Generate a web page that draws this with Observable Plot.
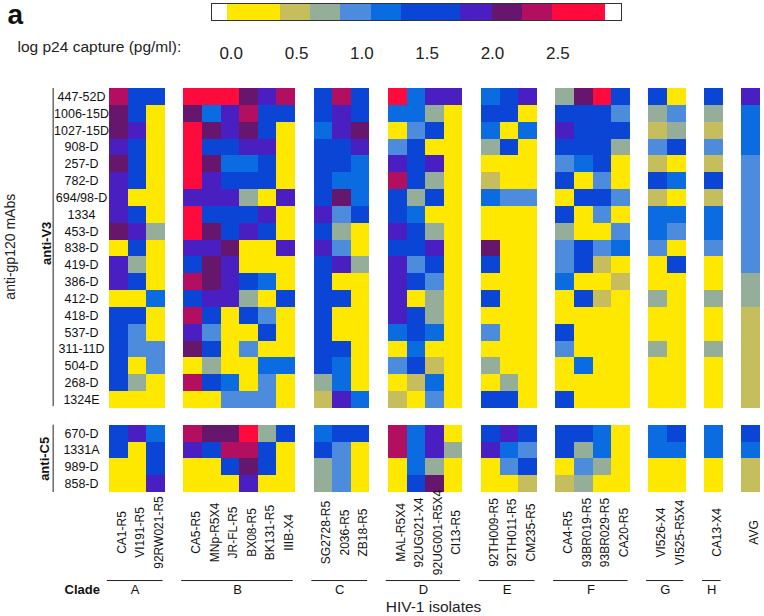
<!DOCTYPE html>
<html><head><meta charset="utf-8">
<script src="https://cdn.jsdelivr.net/npm/d3@7"></script>
<script src="https://cdn.jsdelivr.net/npm/@observablehq/plot@0.6"></script>
<style>html,body{margin:0;padding:0;background:#fff}svg{display:block}</style>
</head><body><div id="c"></div>
<script>
// log p24 capture bins (pg/ml): upper thresholds, colours and a representative value for each level
const thresholds=[0.377,0.607,0.837,1.072,1.302,1.756,1.998,2.23,2.46];
const colors=["#ffe800","#c6bd5c","#94ae9a","#4d8cdc","#0a6ce0","#0a45d6","#4a1fc2","#67166e","#b20f60","#ff0a3c"];
const levelValue=[0.2,0.5,0.75,1.0,1.2,1.55,1.9,2.1,2.35,2.7];
const legendTicks=[0,0.5,1,1.5,2,2.5];

const v3Abs=["447-52D","1006-15D","1027-15D","908-D","257-D","782-D","694/98-D","1334","453-D","838-D","419-D","386-D","412-D","418-D","537-D","311-11D","504-D","268-D","1324E"];
const c5Abs=["670-D","1331A","989-D","858-D"];
const mAbs=[...v3Abs,...c5Abs];

const cladeNames=["A","B","C","D","E","F","G","H",""];
const cladeIsolates=[
 ["CA1-R5","VI191-R5","92RW021-R5"],
 ["CA5-R5","MNp-R5X4","JR-FL-R5","BX08-R5","BK131-R5","IIIB-X4"],
 ["SG2728-R5","2036-R5","ZB18-R5"],
 ["MAL-R5X4","92UG021-X4","92UG001-R5X4","CI13-R5"],
 ["92TH009-R5","92TH011-R5","CM235-R5"],
 ["CA4-R5","93BR019-R5","93BR029-R5","CA20-R5"],
 ["VI526-X4","VI525-R5X4"],
 ["CA13-X4"],
 ["AVG"]
];
// colour level read for each antibody (row) and isolate (column); 0 yellow ... 9 red
const cladeA=[[8,5,5],[7,5,0],[7,6,0],[6,5,0],[7,5,0],[6,5,0],[6,0,0],[6,5,0],[7,6,2],[0,5,0],[6,2,0],[6,5,0],[0,0,4],[5,5,0],[5,3,0],[5,3,3],[5,0,3],[5,2,0],[0,0,0],
 [5,6,4],[5,0,5],[0,0,5],[0,0,6]];
const cladeB=[[9,9,9,7,6,8],[7,4,6,8,5,5],[9,7,6,7,5,0],[9,5,5,6,6,0],[9,7,4,4,5,0],[9,6,5,5,5,0],[6,6,6,2,0,6],[9,5,5,5,6,0],[9,7,5,6,5,0],[6,6,7,0,0,6],[5,7,6,0,0,0],[8,7,6,5,4,0],[5,6,6,2,0,5],[8,5,0,5,3,0],[6,3,0,0,5,0],[7,5,0,3,0,0],[0,2,0,0,4,4],[8,5,4,0,3,0],[0,0,3,3,3,0],
 [8,7,7,9,2,5],[6,5,8,8,5,0],[0,0,5,7,5,0],[0,0,0,6,0,0]];
const cladeC=[[5,8,5],[5,6,5],[4,6,7],[5,5,6],[5,5,4],[5,4,4],[5,7,4],[6,3,5],[5,2,0],[6,3,0],[5,6,2],[5,0,0],[5,5,0],[5,0,0],[5,0,0],[5,5,0],[5,4,0],[2,4,0],[1,6,4],
 [4,5,5],[5,3,0],[2,3,0],[2,3,0]];
const cladeD=[[9,4,6,6],[4,4,2,0],[0,3,5,0],[3,5,0,0],[6,5,6,0],[8,5,2,0],[5,2,5,0],[5,4,0,0],[6,5,2,0],[5,5,6,0],[6,3,5,0],[6,5,3,0],[6,0,2,0],[6,5,2,0],[4,5,4,0],[0,4,0,0],[3,5,1,0],[0,1,4,0],[1,0,3,0],
 [8,4,6,0],[8,4,6,2],[0,4,2,0],[0,5,7,0]];
const cladeE=[[4,5,6],[5,5,0],[4,0,4],[2,5,0],[0,0,0],[1,0,0],[4,3,3],[0,0,0],[0,0,0],[7,0,0],[5,0,0],[0,0,0],[5,0,0],[0,0,0],[3,0,0],[0,0,0],[2,0,0],[0,2,0],[5,5,0],
 [5,6,5],[6,4,3],[0,3,5],[0,0,1]];
const cladeF=[[2,7,9,5],[5,5,5,3],[6,5,5,5],[5,5,5,2],[3,4,5,0],[5,0,3,0],[0,5,5,3],[5,0,3,0],[2,0,0,3],[3,5,3,4],[3,5,1,0],[4,0,0,1],[0,5,1,0],[0,0,0,0],[5,0,0,0],[3,0,0,0],[0,4,0,0],[0,0,0,0],[5,0,0,0],
 [5,5,4,0],[5,2,4,0],[0,3,2,0],[1,2,0,0]];
const cladeG=[[5,0],[2,3],[1,2],[3,5],[1,0],[5,4],[1,0],[4,4],[4,3],[3,0],[0,5],[0,0],[2,0],[0,0],[0,0],[2,0],[0,0],[0,0],[0,0],
 [4,5],[4,4],[0,0],[0,0]];
const cladeH=[[5],[2],[1],[3],[1],[5],[1],[4],[4],[3],[0],[0],[2],[0],[0],[2],[0],[0],[0],
 [4],[4],[0],[0]];
const average=[[6],[4],[4],[4],[3],[3],[3],[3],[3],[3],[3],[2],[2],[1],[1],[1],[1],[1],[1],
 [5],[4],[1],[1]];
const cladeLevels=[cladeA,cladeB,cladeC,cladeD,cladeE,cladeF,cladeG,cladeH,average];

// a blank slot separates clades on the column scale and the two antibody groups on the row scale
const rowSlot=i=>i<v3Abs.length?i:i+1;
const rows=mAbs.map((name,i)=>({name,row:rowSlot(i)}));
const cells=[],isolates=[],groups=[];
let col=0;
cladeLevels.forEach((matrix,k)=>{
  const start=col;
  cladeIsolates[k].forEach((name,j)=>{
    isolates.push({name,col});
    matrix.forEach((r,i)=>cells.push({mAb:mAbs[i],isolate:name,col,row:rowSlot(i),value:levelValue[r[j]]}));
    col++;
  });
  if(cladeNames[k]) groups.push({clade:cladeNames[k],start,end:col});
  col++;
});

const color={type:"threshold",domain:thresholds,range:colors};
const font="'Liberation Sans',Arial,sans-serif";

// legend
const edges=[-0.03,...thresholds,2.866];
const legendBins=d3.pairs(edges).map(([a,b])=>({a,b}));
const legend=Plot.plot({
  width:764,height:62,marginLeft:211,marginRight:143,marginTop:3,marginBottom:42,
  style:{fontFamily:font,background:"#fff",overflow:"visible"},
  x:{domain:[-0.151,2.988],range:[211,621],axis:null},
  y:{axis:null},
  color,
  marks:[
    Plot.rect(legendBins,{x1:"a",x2:"b",y1:()=>0,y2:()=>1,fill:d=>(d.a+d.b)/2,shapeRendering:"crispEdges"}),
    Plot.frame({stroke:"#333",strokeWidth:1}),
    Plot.axisX({anchor:"bottom",ticks:legendTicks,tickFormat:d3.format(".1f"),tickSize:0,tickPadding:26,fontSize:17,fill:"#222",label:null}),
    Plot.text(["log p24 capture (pg/ml):"],{frameAnchor:"bottom-left",textAnchor:"start",lineAnchor:"middle",dx:-194,dy:27,fontSize:15.5,fill:"#222"}),
    Plot.text(["a"],{frameAnchor:"top-left",textAnchor:"start",lineAnchor:"middle",dx:-204,dy:12,fontSize:28,fontWeight:"bold",fill:"#111"})
  ]
});

// heat map
const main=Plot.plot({
  width:764,height:554,marginLeft:109,marginRight:4,marginTop:26,marginBottom:124,
  style:{fontFamily:font,background:"#fff",overflow:"visible"},
  x:{domain:[0,35],range:[109,760],axis:null},
  y:{domain:[0,24],range:[26,430],axis:null},
  color,
  marks:[
    Plot.rect(cells,{x1:"col",x2:d=>d.col+1,y1:"row",y2:d=>d.row+1,fill:"value",shapeRendering:"crispEdges"}),
    Plot.ruleX([[0,18.9],[20,24]],{x:()=>-3.03,y1:d=>d[0],y2:d=>d[1],stroke:"#222",strokeWidth:1}),
    Plot.text(rows,{y:d=>d.row+0.5,text:"name",frameAnchor:"left",textAnchor:"middle",dx:-28,fontSize:12.5,fill:"#111"}),
    Plot.text(isolates,{x:d=>d.col+0.5,text:"name",frameAnchor:"bottom",lineAnchor:"middle",textAnchor:"middle",rotate:-90,dx:3,dy:40,fontSize:12,fill:"#111"}),
    Plot.ruleY(groups,{x1:d=>d.start-0.12,x2:d=>d.end-0.12,y:()=>29.23,stroke:"#222",strokeWidth:1}),
    Plot.text(groups,{x:d=>(d.start+d.end)/2-0.12,text:"clade",frameAnchor:"bottom",lineAnchor:"middle",dy:97,fontSize:13,fill:"#111"}),
    Plot.text(["Clade"],{frameAnchor:"bottom-left",textAnchor:"start",lineAnchor:"middle",dx:-45,dy:97,fontSize:13,fontWeight:"bold",fill:"#111"}),
    Plot.text(["HIV-1 isolates"],{frameAnchor:"bottom-left",textAnchor:"middle",lineAnchor:"middle",dx:324,dy:115,fontSize:15.5,fill:"#222"}),
    Plot.text(["anti-gp120 mAbs"],{frameAnchor:"left",rotate:-90,textAnchor:"middle",lineAnchor:"middle",dx:-99,y:()=>9.4,fontSize:14,fill:"#222"}),
    Plot.text(["anti-V3"],{y:()=>9.2,frameAnchor:"left",rotate:-90,textAnchor:"middle",lineAnchor:"middle",dx:-63,fontSize:13,fontWeight:"bold",fill:"#111"}),
    Plot.text(["anti-C5"],{y:()=>22,frameAnchor:"left",rotate:-90,textAnchor:"middle",lineAnchor:"middle",dx:-65,fontSize:13,fontWeight:"bold",fill:"#111"})
  ]
});
const host=document.getElementById("c");
host.append(legend,main);
</script></body></html>
